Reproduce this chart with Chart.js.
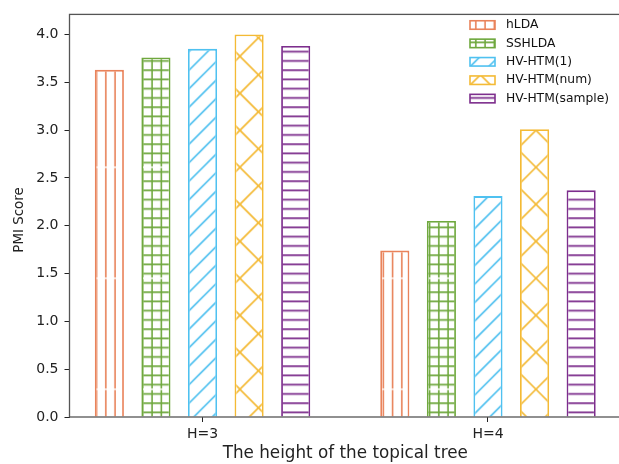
<!DOCTYPE html>
<html>
<head>
<meta charset="utf-8">
<script src="https://cdn.jsdelivr.net/npm/chart.js@4/dist/chart.umd.min.js"></script>
<style>
  html, body { margin: 0; padding: 0; overflow: hidden; background: #fff; width: 619px; height: 464px; }
  #wrap { width: 640px; height: 464px; }
</style>
</head>
<body>
<div id="wrap"><canvas id="c"></canvas></div>
<script>
// Tree heights on the x axis
const groups = ['H=3', 'H=4'];

// PMI score of each model, one value per tree height
const hLDA        = [3.63, 1.74];
const SSHLDA      = [3.76, 2.05];
const hvHtm1      = [3.85, 2.31];
const hvHtmNum    = [4.00, 3.01];
const hvHtmSample = [3.88, 2.37];

// Left axis tick values
const yTicks = [0.0, 0.5, 1.0, 1.5, 2.0, 2.5, 3.0, 3.5, 4.0];

const FONT = '"DejaVu Sans", sans-serif';
const ctx = document.getElementById('c').getContext('2d');

// Hatch tiles: one repeating cell of UNIT px, lines laid out like matplotlib hatches
const UNIT = 111;
const ORIGIN_X = 17.9, ORIGIN_Y = 56.3;
function hatch(color, spec) {
  const t = document.createElement('canvas');
  t.width = UNIT; t.height = UNIT;
  const g = t.getContext('2d');
  g.fillStyle = '#fff';
  g.fillRect(0, 0, UNIT, UNIT);
  g.strokeStyle = color;
  g.lineWidth = 1.6;
  const seg = (x1, y1, x2, y2) => {
    g.beginPath();
    g.moveTo(x1 * UNIT, (1 - y1) * UNIT);
    g.lineTo(x2 * UNIT, (1 - y2) * UNIT);
    g.stroke();
  };
  if (spec.v) for (let i = 0; i < spec.v; i++) {
    const x = (i + 0.5) / spec.v * UNIT;
    g.beginPath(); g.moveTo(x, 0.7); g.lineTo(x, UNIT - 0.7); g.stroke();
  }
  if (spec.h) for (let i = 0; i < spec.h; i++) {
    const y = (i + 0.5) / spec.h;
    seg(0, y, 1, y);
  }
  if (spec.ne) for (let k = 0; k <= spec.ne; k++) {
    const s = -0.5 + k / spec.ne;
    seg(s, -s, 1 + s, 1 - s);
  }
  if (spec.se) for (let k = 0; k <= spec.se; k++) {
    const s = -0.5 + k / spec.se;
    seg(s, 1 + s, 1 + s, s);
  }
  const p = ctx.createPattern(t, 'repeat');
  p.setTransform(new DOMMatrix([1, 0, 0, 1, ORIGIN_X, ORIGIN_Y - UNIT]));
  return p;
}

const series = [
  { label: 'hLDA',           values: hLDA,        color: '#E9835B', spec: { v: 12 } },
  { label: 'SSHLDA',         values: SSHLDA,      color: '#6FA83E', spec: { v: 12, h: 12 } },
  { label: 'HV-HTM(1)',      values: hvHtm1,      color: '#4FC1F0', spec: { ne: 12 } },
  { label: 'HV-HTM(num)',    values: hvHtmNum,    color: '#F4BA35', spec: { ne: 6, se: 6 } },
  { label: 'HV-HTM(sample)', values: hvHtmSample, color: '#7D2E8D', spec: { h: 12 } },
];

const datasets = series.map(s => ({
  label: s.label,
  data: s.values.map((v, i) => ({ x: i, y: v })),
  backgroundColor: hatch(s.color, s.spec),
  borderColor: s.color,
  borderWidth: 1.8,
  borderSkipped: 'start',
  categoryPercentage: 0.816,
  barPercentage: 0.625,
}));

// Box around the plotting area, drawn over the bars
const frame = {
  id: 'frame',
  afterDatasetsDraw(chart) {
    const { ctx: c, chartArea: a } = chart;
    c.save();
    c.strokeStyle = '#555';
    c.lineWidth = 1.3;
    c.strokeRect(a.left, a.top, a.right - a.left, a.bottom - a.top);
    c.restore();
  }
};

// Legend in the upper right corner with hatched swatches, plus the y axis title
const hatchLegend = {
  id: 'hatchLegend',
  afterDraw(chart) {
    const c = chart.ctx;
    chart.data.datasets.forEach((ds, i) => {
      const cy = 25 + i * 18.4;
      c.save();
      c.fillStyle = ds.backgroundColor;
      c.fillRect(470, cy - 4.25, 25, 8.5);
      c.strokeStyle = ds.borderColor;
      c.lineWidth = 1.6;
      c.strokeRect(470, cy - 4.25, 25, 8.5);
      c.fillStyle = '#111';
      c.font = '12.3px ' + FONT;
      c.textBaseline = 'middle';
      c.textAlign = 'left';
      c.fillText(ds.label, 506, cy);
      c.restore();
    });
    c.save();
    c.translate(19.5, 220);
    c.rotate(-Math.PI / 2);
    c.fillStyle = '#222';
    c.font = '13.4px ' + FONT;
    c.textAlign = 'center';
    c.textBaseline = 'middle';
    c.fillText('PMI Score', 0, 0);
    c.restore();
  }
};

new Chart(ctx, {
  type: 'bar',
  data: { datasets },
  plugins: [frame, hatchLegend],
  options: {
    responsive: true,
    maintainAspectRatio: false,
    animation: false,
    layout: { autoPadding: false, padding: { top: 8.5, right: 19, left: 0, bottom: 0 } },
    plugins: { legend: { display: false }, tooltip: { enabled: false } },
    scales: {
      x: {
        type: 'linear',
        offset: false,
        min: -0.466,
        max: 1.466,
        afterBuildTicks: s => { s.ticks = groups.map((_, i) => ({ value: i })); },
        afterFit: s => { s.height = 47; },
        border: { display: false },
        grid: { offset: false, drawOnChartArea: false, drawTicks: true, tickLength: 5, tickColor: '#222', lineWidth: 1 },
        ticks: {
          autoSkip: false, maxRotation: 0, padding: 4,
          color: '#222', font: { family: FONT, size: 14 },
          callback: v => groups[v]
        },
        title: {
          display: true, text: 'The height of the topical tree',
          color: '#222', font: { family: FONT, size: 16.8 },
          padding: { top: 0, bottom: 0 }
        }
      },
      y: {
        min: 0,
        max: 4.21,
        afterBuildTicks: s => { s.ticks = yTicks.map(v => ({ value: v })); },
        afterFit: s => { s.width = 69.5; },
        border: { display: false },
        grid: { drawOnChartArea: false, drawTicks: true, tickLength: 5, tickColor: '#222', lineWidth: 1 },
        ticks: {
          padding: 6, color: '#222', font: { family: FONT, size: 14 },
          callback: v => Number(v).toFixed(1)
        }
      }
    }
  }
});
</script>
</body>
</html>
